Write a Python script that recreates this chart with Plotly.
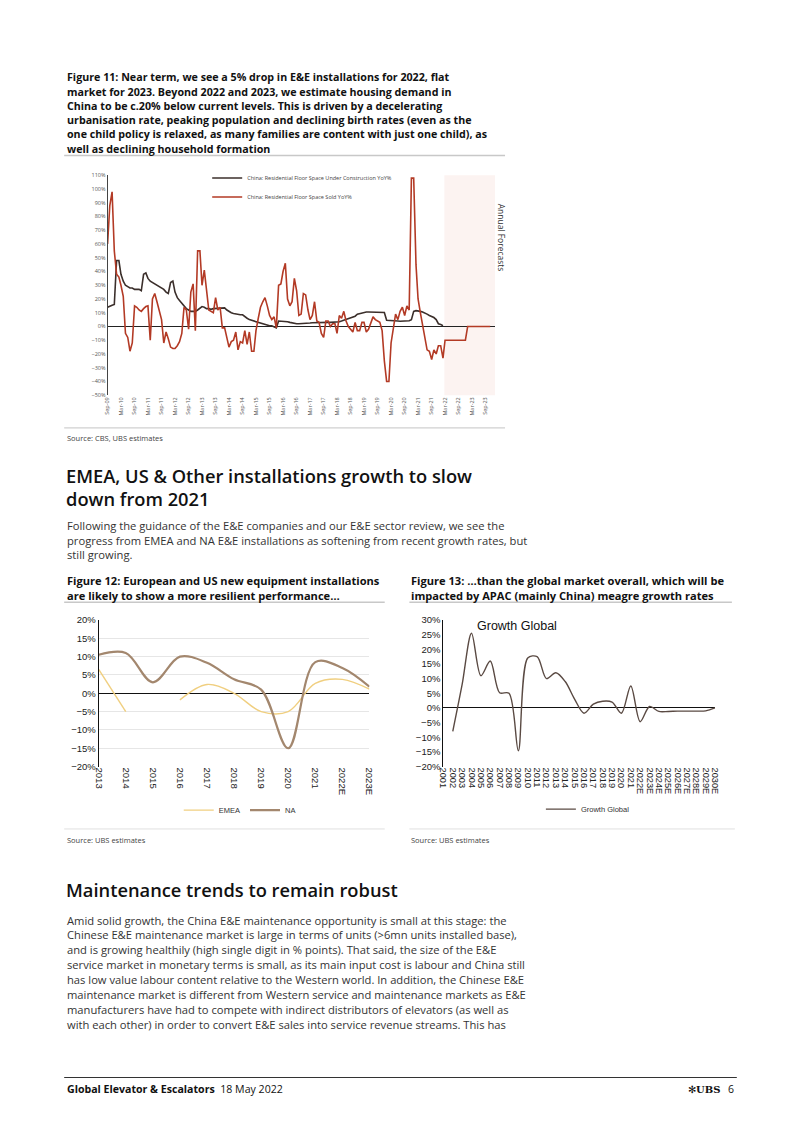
import pandas as pd
import plotly.graph_objects as go

W, H = 802, 1134

# ---------------- Figure 11 data (monthly, from Sep-09) ----------------
under_construction = [
    14, 15, 15.5, 16, 48, 48, 38, 33, 30, 29,
    28, 28, 27, 27, 27, 26, 38, 39, 35, 33,
    32, 31, 30, 29, 28, 27, 25, 24, 32, 33,
    25, 21, 19, 17, 15, 13, 12, 11, 11, 11,
    12, 13, 14.5, 14, 13, 13, 12.5, 13, 13, 13,
    13.5, 13.5, 13.5, 12, 11, 10, 9.5, 9, 8.5, 8.5,
    8.5, 7, 6, 5, 4.5, 4, 3.5, 3, 2, 1.5,
    1, 1, 0.5, 0.5, 0, -1, 4, 4, 3.8, 3.6,
    3.5, 3, 2.5, 2.2, 2, 2, 2, 2.2, 2.3, 2.5,
    2.5, 2.7, 2.8, 3, 3, 3, 3, 3, 3, 3,
    3, 3, 3, 3.5, 4, 4.5, 5, 5.5, 6, 6.5,
    7.5, 9, 9.5, 10, 10.5, 10.5, 10.5, 10.5, 10.5, 10.5,
    10.5, 10.2, 10.2, 10.2, 4.5, 4.5, 4.2, 4, 4, 4,
    3.8, 3.8, 3.8, 3.8, 4.2, 5, 11, 11.5, 11.5, 11,
    10.5, 10, 9, 8, 7.5, 6.5, 5, 2, 1.5, 0.5,
]
floor_space_sold = [
    60, 88, 98, 55, 38, 36, 30, 22, -5, -8,
    -18, -12, 15, 14, 12, 11, 13, 14.5, 15, -10,
    20, 24, 18, 12, 5, -12, -4, -9, -15, -16,
    -16, -14, -11, -5, 14, 12, -2, 25, 31, -3,
    55, 55, 30, 41, 28, 12, 11, 10, 21, 12,
    14, -1, -1, -8, -15, -11, -10, -4, -17, -11,
    -12, -3, -13, -4, -18, -18, -3, 6, 14, 18,
    21, 15, 8, 5, 7, -1, 30, 31, 40, 46,
    20, 15, 18, 35, 26, 8, 9, 24, 23, 12,
    5, 8, 18, 4, 3, -5, -8, 4, 4, 0,
    2, 2, -5, 8, 6, 11, 4, 0, -2, -4,
    3, -3, -3, 3, 3, -4, -2, 3, 7, 5,
    4, 3, -3, -25, -40, -40, -12, 0, 9, 5,
    11, 14, 8, 15, 12, 108, 108, 45, 20, 10,
    0, -10, -17, -18, -24, -17, -20, -14, -14, -23,
    # annual forecasts
    -10, -10, -10, -10, -10, -10, -10, -10, -10, -10,
    0, 0, 0, 0, 0, 0, 0, 0, 0, 0, 0,
]
months_uc = pd.date_range("2009-09-01", periods=len(under_construction), freq="MS")
months_sold = pd.date_range("2009-09-01", periods=len(floor_space_sold), freq="MS")

# ---------------- Figure 12 data ----------------
years12 = ["2013", "2014", "2015", "2016", "2017", "2018", "2019", "2020", "2021", "2022E", "2023E"]
emea = [6.5, -5, None, -1.8, 2.4, 0, -5, -5, 2.7, 3.8, 1.1]
na = [10.5, 11, 3, 10, 8.3, 3.8, 1, -15, 8.5, 6.9, 1.8]

# ---------------- Figure 13 data ----------------
years13 = [str(y) for y in range(2001, 2022)] + [f"{y}E" for y in range(2022, 2031)]
growth_global = [None, -8, 8, 25.5, 11, 16, 5.2, 5, -14.6, 17, 17.5, 10, 12, 9, 3,
                 -1.8, 1.3, 2.3, 2, -1.8, 7.5, -4.7, 0.5, -1.2, -1.2, -1.1, -1.1,
                 -1.1, -1.0, 0]


def fx(px):
    return px / W


def fy(py):
    return 1 - py / H


BODY = "Open Sans"
ARIAL = "Liberation Sans"

fig = go.Figure()

# Figure 11 traces
fig.add_trace(go.Scatter(
    x=months_uc, y=under_construction, mode="lines",
    name="China: Residential Floor Space Under Construction YoY%",
    line=dict(color="#3b2f2b", width=1.6), xaxis="x", yaxis="y", legend="legend"))
fig.add_trace(go.Scatter(
    x=months_sold, y=floor_space_sold, mode="lines",
    name="China: Residential Floor Space Sold YoY%",
    line=dict(color="#b33a25", width=1.6), xaxis="x", yaxis="y", legend="legend"))

# Figure 12 traces
fig.add_trace(go.Scatter(
    x=years12, y=emea, mode="lines", name="EMEA", connectgaps=False,
    line=dict(color="#f0cf80", width=1.4, shape="spline", smoothing=1.0),
    xaxis="x2", yaxis="y2", legend="legend2"))
fig.add_trace(go.Scatter(
    x=years12, y=na, mode="lines", name="NA",
    line=dict(color="#a3876e", width=2.2, shape="spline", smoothing=1.0),
    xaxis="x2", yaxis="y2", legend="legend2"))

# Figure 13 trace
fig.add_trace(go.Scatter(
    x=years13, y=growth_global, mode="lines", name="Growth Global", connectgaps=False,
    line=dict(color="#5a4a43", width=1.4, shape="spline", smoothing=0.9),
    xaxis="x3", yaxis="y3", legend="legend3"))

tick_small = dict(family=BODY, size=5.5, color="#555")
tick_arial = dict(family=ARIAL, size=9.5, color="#222")

layout = dict(
    width=W, height=H, margin=dict(l=0, r=0, t=0, b=0),
    paper_bgcolor="white", plot_bgcolor="rgba(0,0,0,0)",
    showlegend=True,
    # Figure 11 axes
    xaxis=dict(domain=[fx(104), fx(497)], anchor="y", type="date",
               range=["2009-09-01", "2024-01-08"], tick0="2009-09-01", dtick="M6",
               tickformat="%b-%y", tickangle=-90, tickfont=tick_small,
               showgrid=False, showline=False, ticks="", zeroline=False),
    yaxis=dict(domain=[fy(393), fy(171)], anchor="x", range=[-50, 110], dtick=10,
               ticksuffix="%", tickfont=tick_small, showgrid=False,
               showline=True, linecolor="#444", linewidth=1, ticks="",
               zeroline=True, zerolinecolor="#222", zerolinewidth=1),
    # Figure 12 axes
    xaxis2=dict(domain=[fx(95), fx(369.5)], anchor="y2", type="category",
                range=[0, 10], dtick=1, tickangle=90, tickfont=tick_arial,
                showgrid=False, showline=False, ticks="", zeroline=False),
    yaxis2=dict(domain=[fy(768), fy(620)], anchor="x2", range=[-20, 20], dtick=5,
                ticksuffix="%", tickfont=tick_arial, showgrid=True,
                gridcolor="#e6e6e6", gridwidth=1, showline=True, linecolor="#111",
                linewidth=1.2, ticks="", zeroline=True, zerolinecolor="#111",
                zerolinewidth=1.3),
    # Figure 13 axes
    xaxis3=dict(domain=[fx(444.5), fx(720)], anchor="y3", type="category",
                range=[0, 29], dtick=1, tickangle=90,
                tickfont=dict(family=ARIAL, size=9.2, color="#222"),
                showgrid=False, showline=False, ticks="", zeroline=False),
    yaxis3=dict(domain=[fy(768), fy(620)], anchor="x3", range=[-20, 30], dtick=5,
                ticksuffix="%", tickfont=tick_arial, showgrid=False,
                showline=True, linecolor="#111", linewidth=1.2, ticks="",
                zeroline=True, zerolinecolor="#111", zerolinewidth=1.3),
    legend=dict(x=fx(205), y=fy(159), xanchor="left", yanchor="top",
                font=dict(family=BODY, size=5.5, color="#444"),
                bgcolor="rgba(0,0,0,0)", itemwidth=30, tracegroupgap=0),
    legend2=dict(orientation="h", x=fx(238), y=fy(812), xanchor="center",
                 yanchor="middle", font=dict(family=ARIAL, size=7.5, color="#333"),
                 bgcolor="rgba(0,0,0,0)", itemwidth=30),
    legend3=dict(orientation="h", x=fx(591), y=fy(811), xanchor="center",
                 yanchor="middle", font=dict(family=ARIAL, size=7.5, color="#333"),
                 bgcolor="rgba(0,0,0,0)", itemwidth=30),
)
fig.update_layout(**layout)

shapes = []
# forecast shading in Figure 11
shapes.append(dict(type="rect", xref="x", yref="y domain", x0="2022-02-20",
                   x1="2024-01-08", y0=0, y1=1, fillcolor="#fcf3f1",
                   line=dict(width=0), layer="below"))


def hline(y, x0, x1, color="#c8c8c8", width=1.5):
    shapes.append(dict(type="line", xref="paper", yref="paper",
                       x0=fx(x0), x1=fx(x1), y0=fy(y), y1=fy(y),
                       line=dict(color=color, width=width)))


hline(151, 60, 507)
hline(426, 60, 507, "#d0d0d0", 1.2)
hline(602, 60, 385)
hline(602, 410, 737)
hline(831, 60, 385, "#e0e0e0", 1)
hline(831, 410, 740, "#e0e0e0", 1)
hline(1082, 60, 742, "#333", 1)
fig.update_layout(shapes=shapes)

annotations = []


def text(s, x, y, size, color="#111", family=BODY, weight="normal",
         xanchor="left", angle=0):
    annotations.append(dict(text=s, x=fx(x), y=fy(y), xref="paper", yref="paper",
                            xanchor=xanchor, yanchor="middle", showarrow=False,
                            textangle=angle,
                            font=dict(family=family, size=size, color=color,
                                      weight=weight)))


def block(lines, x, y0, step, size, **kw):
    for i, s in enumerate(lines):
        text(s, x, y0 + i * step, size, **kw)


fig11_title = [
    "Figure 11: Near term, we see a 5% drop in E&amp;E installations for 2022, flat",
    "market for 2023. Beyond 2022 and 2023, we estimate housing demand in",
    "China to be c.20% below current levels. This is driven by a decelerating",
    "urbanisation rate, peaking population and declining birth rates (even as the",
    "one child policy is relaxed, as many families are content with just one child), as",
    "well as declining household formation",
]
block(fig11_title, 61, 72, 14.4, 10.7, weight="bold")

text("Annual Forecasts", 503, 234, 8.5, color="#333", angle=90, xanchor="center")
text("Source: CBS, UBS estimates", 61, 436, 7.5, color="#444")

block(["EMEA, US &amp; Other installations growth to slow", "down from 2021"],
      60, 474, 23.5, 18.3, weight=600)

block(["Following the guidance of the E&amp;E companies and our E&amp;E sector review, we see the",
       "progress from EMEA and NA E&amp;E installations as softening from recent growth rates, but",
       "still growing."], 61, 525, 14.6, 11.2, color="#333")

block(["Figure 12: European and US new equipment installations",
       "are likely to show a more resilient performance…"], 61, 580, 15.5, 11.1,
      weight="bold")
block(["Figure 13: …than the global market overall, which will be",
       "impacted by APAC (mainly China) meagre growth rates"], 410, 580, 15.5, 11.1,
      weight="bold")

text("Growth Global", 477, 626, 12.5, color="#111", family=ARIAL)

text("Source: UBS estimates", 61, 842, 7.5, color="#444")
text("Source: UBS estimates", 410, 842, 7.5, color="#444")

text("Maintenance trends to remain robust", 60, 892, 18.3, weight=600)

block([
    "Amid solid growth, the China E&amp;E maintenance opportunity is small at this stage: the",
    "Chinese E&amp;E maintenance market is large in terms of units (>6mn units installed base),",
    "and is growing healthily (high single digit in % points). That said, the size of the E&amp;E",
    "service market in monetary terms is small, as its main input cost is labour and China still",
    "has low value labour content relative to the Western world. In addition, the Chinese E&amp;E",
    "maintenance market is different from Western service and maintenance markets as E&amp;E",
    "manufacturers have had to compete with indirect distributors of elevators (as well as",
    "with each other) in order to convert E&amp;E sales into service revenue streams. This has",
], 61, 923, 15.0, 11.2, color="#333")

text("<b>Global Elevator &amp; Escalators</b>  18 May 2022", 61, 1094, 10.6, color="#111")
text("✻<b>UBS</b>", 727, 1094, 10, color="#111", family="DejaVu Serif", xanchor="right")
text("6", 741, 1094, 10.5, color="#111", xanchor="right")

fig.update_layout(annotations=annotations)

fig.write_html(
    "out.html",
    config={"displayModeBar": False},
    post_script="document.body.style.margin='0';document.body.style.overflow='hidden';",
)
